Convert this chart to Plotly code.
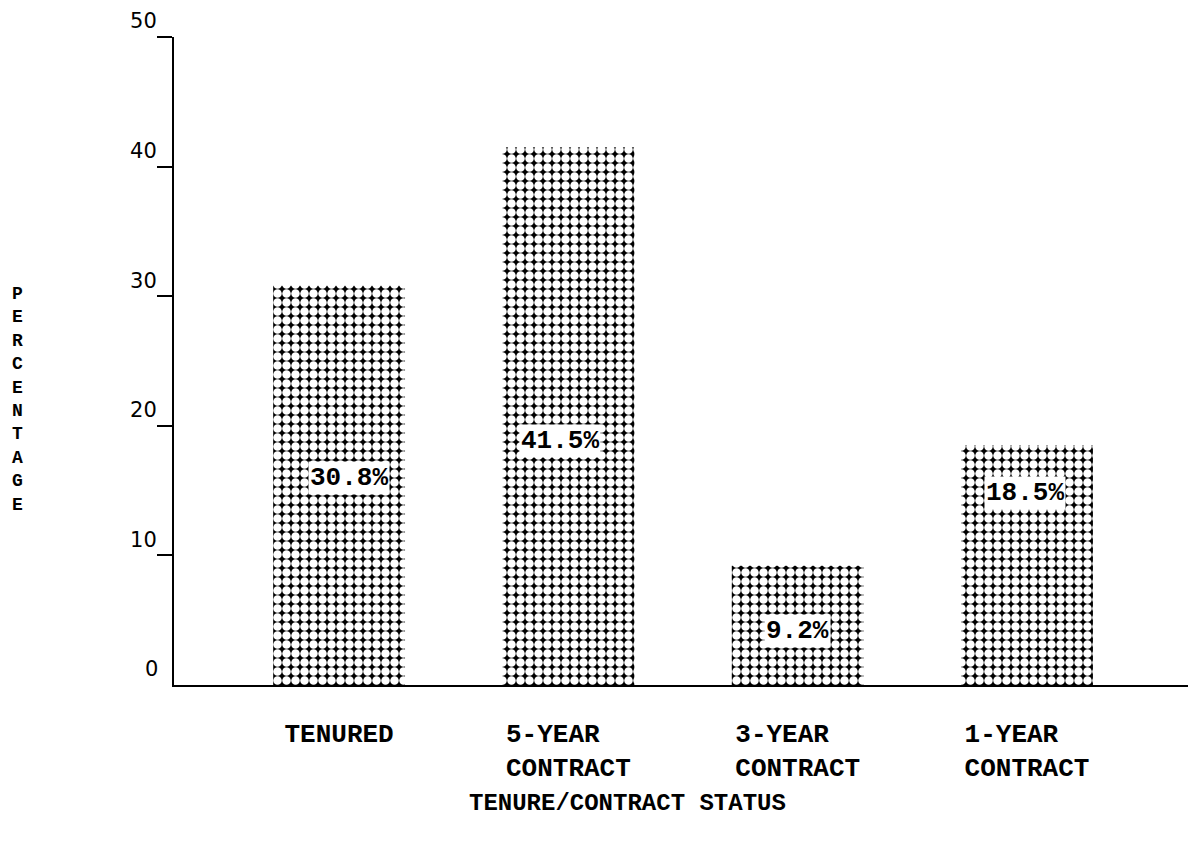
import plotly.graph_objects as go

categories = ["TENURED", "5-YEAR\u00a0\u00a0<br>CONTRACT", "3-YEAR\u00a0\u00a0<br>CONTRACT", "1-YEAR\u00a0\u00a0<br>CONTRACT"]
values = [30.8, 41.5, 9.2, 18.5]
value_labels = ["30.8%", "41.5%", "9.2%", "18.5%"]
label_y = [16.0, 18.8, 4.2, 14.8]
label_xshift = [10, -8, 0, -2]
y_ticks = [0, 10, 20, 30, 40, 50]
x_title = "TENURE/CONTRACT STATUS"
y_title = "PERCENTAGE"

xpos = list(range(len(categories)))
MONO = "Liberation Mono, Courier New, monospace"
TICKFONT = dict(family="DejaVu Sans, sans-serif", size=21, color="black")

fig = go.Figure()
fig.add_trace(go.Bar(
    x=xpos, y=values, width=0.575,
    marker=dict(
        color="black",
        line=dict(width=0),
        pattern=dict(shape=".", bgcolor="black", fgcolor="white",
                     size=9, solidity=0.7, fillmode="replace"),
    ),
    hoverinfo="skip",
))

for xi, ly, dx, txt in zip(xpos, label_y, label_xshift, value_labels):
    fig.add_annotation(x=xi, y=ly, xshift=dx, text="<b>%s</b>" % txt, showarrow=False,
                       bgcolor="white", borderpad=1,
                       font=dict(family=MONO, size=26, color="black"))

# the zero label has no tick mark in the reference
fig.add_annotation(
    xref="paper", yref="y", x=0, y=y_ticks[0], xanchor="right", yanchor="middle",
    xshift=-14, yshift=16, text=str(y_ticks[0]), showarrow=False, font=TICKFONT,
)

fig.add_annotation(
    xref="paper", yref="paper", x=-0.153, y=0.44, xanchor="center", yanchor="middle",
    text="<br>".join("<b>%s</b>" % c for c in y_title), showarrow=False, align="center",
    font=dict(family=MONO, size=18, color="black"),
)
fig.add_annotation(
    xref="paper", yref="paper", x=(627 - 174) / 1022, y=-(803 - 685) / 648,
    xanchor="center", yanchor="middle", text="<b>%s</b>" % x_title, showarrow=False,
    font=dict(family=MONO, size=24, color="black"),
)

fig.update_layout(
    width=1188, height=836,
    margin=dict(l=166, r=0, t=29, b=159),
    paper_bgcolor="white", plot_bgcolor="white",
    showlegend=False,
    xaxis=dict(
        range=[-0.72, 3.737], tickvals=xpos,
        ticktext=["<b>%s</b>" % c for c in categories],
        showgrid=False, zeroline=False, showline=True, linecolor="black", linewidth=2,
        ticks="", ticklabelstandoff=24,
        tickfont=dict(family=MONO, size=26, color="black"),
    ),
    yaxis=dict(
        range=[0, 50], tickvals=y_ticks[1:], ticktext=[str(t) for t in y_ticks[1:]],
        showgrid=False, zeroline=False, showline=True, linecolor="black", linewidth=2,
        ticks="outside", ticklen=15, tickwidth=2, tickcolor="black",
        ticklabelshift=-16, ticklabelstandoff=-4,
        tickfont=TICKFONT,
    ),
)

fig.write_html("out.html")
